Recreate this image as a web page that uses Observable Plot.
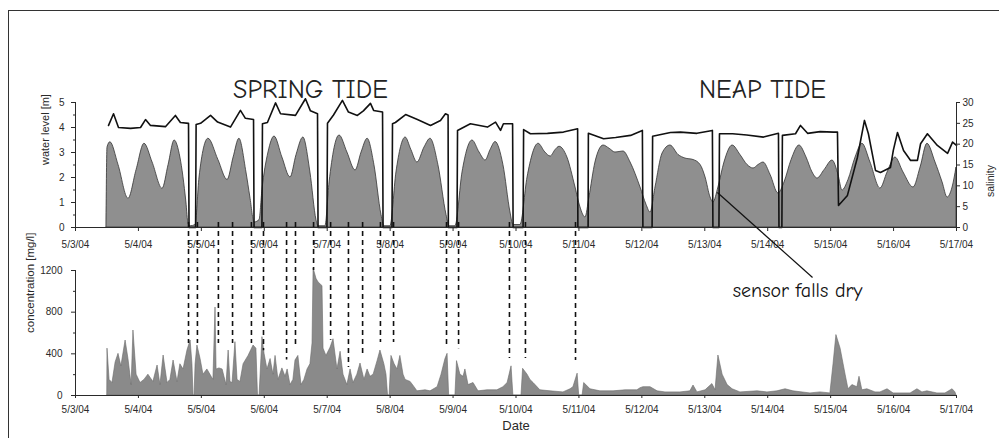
<!DOCTYPE html>
<html><head><meta charset="utf-8">
<script src="https://cdn.jsdelivr.net/npm/d3@7"></script>
<script src="https://cdn.jsdelivr.net/npm/@observablehq/plot@0.6"></script>
<style>
body{margin:0;background:#fff;}
#wrap{position:relative;width:999px;height:438px;overflow:hidden;background:#fff;}
#frame{position:absolute;left:8px;top:10px;width:1100px;height:500px;border:1.5px solid #333;box-sizing:border-box;}
#top,#bot{position:absolute;left:0;}
#top{top:0px}
#bot{top:210px}
svg{overflow:visible}
</style></head><body>
<div id="wrap"><div id="frame"></div><div id="top"></div><div id="bot"></div></div>
<script>
// x tick labels (one per day)
const dayTicks = ["5/3/04","5/4/04","5/5/04","5/6/04","5/7/04","5/8/04","5/9/04","5/10/04","5/11/04","5/12/04","5/13/04","5/14/04","5/15/04","5/16/04","5/17/04"];
// y tick values
const levelTicks = [0,1,2,3,4,5];
const salinityTicks = [0,5,10,15,20,25,30];
const concTicks = [0,400,800,1200];

// [hours since 5/3/04 00:00, water level m]
const waterLevel = [[11.8,0],[12.2,3.2],[13.3,3.41],[16.4,2.5],[20.2,1.15],[23.3,2.3],[26.3,3.35],[29.4,2.6],[33.2,1.55],[35.5,2.5],[37.8,3.48],[40.0,2.8],[42.3,1.0],[43.1,0.15],[43.9,0.05],[45.8,0.1],[47.3,2.0],[50.7,3.55],[54.5,2.7],[58.0,1.9],[60.3,2.8],[62.5,3.55],[65.2,2.2],[66.7,1.2],[68.3,0.2],[70.2,0.3],[71.3,1.5],[73.6,3.0],[75.9,3.64],[78.9,2.8],[82.0,2.0],[84.3,2.9],[86.9,3.6],[89.6,2.2],[91.9,0.3],[92.7,0.05],[95.3,0.05],[96.9,1.8],[100.7,3.68],[103.7,3.0],[106.8,2.28],[109.1,3.0],[111.4,3.55],[114.0,2.5],[116.7,0.5],[117.8,0.05],[120.1,0.05],[122.4,2.2],[125.9,3.6],[128.1,3.1],[130.4,2.6],[133.1,3.2],[135.4,3.55],[138.4,2.5],[141.5,0.5],[142.6,0.05],[144.9,0.05],[147.6,2.2],[151.4,3.48],[154.1,3.0],[156.4,2.68],[158.3,3.1],[160.2,3.42],[163.2,2.5],[165.9,0.6],[167.0,0.1],[169.7,0.1],[172.4,2.0],[176.6,3.35],[179.2,3.0],[181.2,2.84],[183.1,3.1],[184.6,3.23],[187.6,2.8],[190.7,1.6],[192.6,0.8],[194.5,0.4],[196.0,1.2],[198.3,2.6],[201.4,3.28],[203.7,3.15],[205.9,3.0],[207.5,3.02],[209.0,3.04],[211.7,2.6],[215.5,1.6],[217.8,0.9],[219.3,0.6],[221.2,1.6],[223.9,2.96],[226.9,3.28],[230.0,2.9],[232.6,2.76],[235.7,2.7],[238.4,2.5],[240.3,2.0],[242.2,1.2],[243.3,1.0],[245.2,1.6],[247.5,2.6],[250.6,3.28],[253.6,2.9],[256.3,2.5],[258.6,2.36],[260.5,2.5],[262.4,2.6],[265.1,2.1],[268.1,1.36],[270.4,1.8],[273.1,2.7],[276.1,3.28],[278.8,2.8],[281.1,2.2],[283.0,1.96],[285.7,2.3],[288.7,2.68],[291.0,2.1],[292.5,1.48],[294.8,1.9],[297.5,2.8],[300.1,3.35],[303.2,2.6],[307.0,1.56],[309.7,2.2],[312.7,2.8],[315.8,2.2],[319.6,1.6],[322.3,2.4],[324.9,3.35],[328.0,2.6],[330.7,1.8],[332.6,1.2],[334.5,1.6],[336.0,2.4]];

// [hours, salinity]
const salinity = [[12.6,24.5],[14.5,27.3],[16.4,24.0],[21.0,23.8],[24.8,24.0],[26.7,25.9],[28.6,24.5],[34.3,24.2],[38.1,26.9],[40.0,25.2],[43.1,25.0],[43.3,0],[45.8,0],[46.0,24.7],[47.7,25.0],[51.5,26.9],[54.2,25.3],[59.1,24.1],[62.9,28.1],[64.8,26.2],[67.9,25.9],[68.1,0],[71.1,0],[71.3,24.9],[73.2,25.2],[76.3,29.9],[78.2,27.3],[83.9,26.9],[87.7,30.9],[89.6,28.0],[92.3,27.3],[92.5,0],[95.9,0],[96.1,25.0],[98.4,27.0],[101.8,30.5],[104.1,27.7],[107.5,26.9],[109.8,28.0],[112.5,29.8],[113.7,28.1],[117.1,27.7],[117.3,0],[120.7,0],[120.9,24.9],[122.0,25.2],[125.9,27.1],[130.4,25.9],[135.4,24.5],[139.2,25.7],[141.1,27.3],[142.1,27.0],[142.2,0],[145.5,0],[145.7,23.3],[150.6,24.9],[157.1,24.1],[160.2,25.3],[162.1,23.3],[163.2,24.9],[166.7,24.9],[166.9,0],[170.7,0],[170.9,23.5],[173.5,22.5],[180.0,22.6],[186.1,22.9],[191.5,23.7],[191.6,0],[195.5,0],[195.6,22.6],[201.4,21.3],[206.0,21.6],[211.7,22.1],[216.2,23.3],[216.4,0],[219.9,0],[220.1,21.9],[226.9,22.8],[230.7,22.9],[237.0,22.6],[242.9,23.3],[243.1,0],[245.4,0],[245.6,22.5],[250.6,22.5],[256.0,22.2],[262.4,21.7],[268.1,22.6],[268.3,0],[269.4,0],[269.6,22.1],[274.6,22.5],[276.5,24.5],[279.2,22.6],[284.0,23.0],[289.1,22.9],[290.6,22.9],[291.0,5.3],[294.4,7.7],[298.2,16.8],[300.9,25.7],[302.4,22.5],[305.1,13.7],[307.0,13.2],[310.8,14.4],[311.9,18.5],[313.5,22.8],[315.8,18.5],[318.5,16.1],[321.1,16.1],[322.3,20.1],[324.9,22.5],[328.7,19.7],[332.6,17.8],[334.5,20.5],[336.0,19.7]];

// [hours, concentration mg/l]
const concentration = [[12.1,0],[12.2,450],[13.0,150],[14.1,120],[15.3,317],[16.4,400],[17.5,280],[19.1,528],[20.2,350],[21.4,100],[22.1,624],[23.3,200],[24.8,120],[26.3,150],[27.8,200],[29.7,130],[31.3,288],[32.4,100],[33.6,384],[35.1,120],[36.2,150],[37.4,336],[38.9,130],[40.0,300],[41.2,250],[42.7,432],[43.9,528],[44.6,300],[45.0,0],[45.4,0],[45.8,300],[46.5,480],[47.7,350],[48.8,200],[50.3,250],[51.9,180],[52.6,150],[53.4,845],[53.8,250],[54.9,260],[56.1,250],[57.6,100],[58.4,432],[59.1,130],[59.9,120],[61.0,512],[61.8,150],[62.9,130],[64.1,300],[66.0,380],[67.9,480],[69.0,450],[69.6,0],[70.2,0],[70.9,350],[71.3,560],[72.1,400],[73.2,250],[74.4,350],[75.5,200],[76.3,380],[77.4,150],[78.9,260],[80.1,180],[80.9,250],[82.0,100],[83.1,150],[83.9,336],[85.0,380],[86.2,100],[87.3,150],[88.5,250],[89.6,300],[90.4,500],[90.8,1220],[91.9,1120],[92.7,1085],[94.2,1050],[94.6,450],[95.7,380],[97.3,460],[98.4,540],[99.9,250],[101.1,420],[102.2,200],[103.7,100],[104.9,250],[106.0,120],[107.5,200],[108.7,307],[110.2,150],[111.4,250],[112.5,180],[113.7,200],[115.2,330],[116.3,432],[117.8,300],[118.6,200],[119.2,0],[119.8,0],[120.5,380],[121.7,300],[122.8,250],[123.9,380],[125.1,200],[125.9,150],[127.8,130],[129.3,80],[130.4,40],[133.5,50],[135.4,40],[138.1,80],[139.6,200],[141.1,350],[141.9,400],[142.5,0],[144.9,0],[145.5,330],[146.8,200],[148.0,180],[148.7,250],[149.9,100],[151.8,120],[153.7,40],[157.1,50],[160.9,50],[163.2,80],[164.8,120],[166.3,280],[167.0,0],[170.1,0],[170.7,256],[172.4,200],[173.5,150],[174.7,120],[177.3,50],[181.2,40],[186.1,30],[188.8,60],[189.9,80],[191.5,210],[192.1,0],[193.4,0],[194.0,120],[196.4,60],[200.2,40],[205.2,40],[209.8,50],[214.3,50],[215.5,70],[216.6,80],[219.3,80],[222.0,40],[225.0,30],[230.7,30],[234.5,40],[235.7,96],[237.2,30],[240.3,50],[242.9,110],[244.1,50],[245.2,384],[246.8,200],[248.7,100],[250.6,60],[253.6,30],[260.1,40],[263.9,30],[267.7,40],[270.8,60],[273.8,40],[280.3,20],[284.1,30],[287.9,20],[289.1,300],[290.2,580],[291.8,450],[293.7,200],[294.8,60],[296.3,100],[298.2,80],[299.0,180],[300.1,50],[302.0,60],[305.1,30],[307.0,30],[309.7,60],[312.0,20],[318.5,20],[321.1,60],[323.0,30],[324.9,40],[328.7,20],[331.8,20],[334.5,60],[335.6,30],[336.0,0]];

// dashed connectors: [hours, concentration where the dash ends]
const dryMarks = [[43.1,500],[46.5,500],[54.5,500],[59.9,500],[67.1,500],[71.7,430],[80.5,340],[83.9,480],[90.8,1200],[97.3,530],[104.1,270],[109.5,400],[116.3,510],[121.3,510],[141.5,460],[146.1,450],[165.5,355],[171.6,355],[190.7,335]];
const dashTopConc = 1660;

// annotations: [hours, label]
const tideLabels = [[89.6,"SPRING TIDE"],[262,"NEAP TIDE"]];
const sensorNote = {from:[244.8,1.4], to:[281.1,-2.0], label:"sensor falls dry", labelAt:[275.4,1005]};

const parse = d3.utcParse("%m/%d/%y");
const tickDates = dayTicks.map(parse);
const fmt = d3.utcFormat("%-m/%-d/%y");
const t0 = tickDates[0];
const T = h => new Date(+t0 + h*3600e3);
const xDomain = [tickDates[0], tickDates[tickDates.length-1]];

const wl = waterLevel.map(([h,v]) => ({t:T(h), v}));
const sal = salinity.map(([h,v]) => ({t:T(h), v}));
const conc = concentration.map(([h,v]) => ({t:T(h), v}));
const dashes = dryMarks.map(([h,v]) => ({t:T(h), v}));
const tides = tideLabels.map(([h,s]) => ({t:T(h), s}));

const FONT = "Liberation Sans, Arial, sans-serif";
const COMIC = "Comic Sans MS, Comic Neue, Lato, sans-serif";
const ink = "#2a2a2a";

const topPlot = Plot.plot({
  width:999, height:255,
  marginLeft:75, marginRight:43, marginTop:102, marginBottom:28,
  style:{background:"transparent", overflow:"visible", fontFamily:FONT, fontSize:"10px", color:ink},
  x:{type:"utc", domain:xDomain},
  y:{domain:[0,5]},
  marks:[
    Plot.areaY(wl, {x:"t", y:"v", fill:"#8f8f8f", stroke:"#333", strokeWidth:0.8, curve:"monotone-x"}),
    Plot.line(sal, {x:"t", y:d=>d.v/6, stroke:"#111", strokeWidth:1.6}),
    Plot.ruleY([0], {stroke:ink}),
    Plot.ruleX([xDomain[0]], {stroke:ink}),
    Plot.ruleX([xDomain[1]], {stroke:ink}),
    Plot.axisX({ticks:tickDates, tickFormat:fmt, tickSize:4, tickPadding:9, label:null}),
    Plot.axisY({ticks:levelTicks, tickFormat:d=>String(d), tickSize:4, tickPadding:7, label:null}),
    Plot.axisY({ticks:d3.range(0.5,5,1), tickSize:2, tickFormat:()=>"", label:null}),
    Plot.axisY(salinityTicks.map(v=>v/6), {anchor:"right", tickFormat:d=>String(Math.round(d*6)), tickSize:3, tickPadding:3, label:null}),
    Plot.text(["water level [m]"], {text:d=>d, frameAnchor:"left", dx:-30, rotate:-90, fontSize:11, fill:ink}),
    Plot.text(["salinity"], {text:d=>d, frameAnchor:"right", dx:34, rotate:-90, fontSize:10.5, fill:ink}),
    Plot.text(tides, {x:"t", text:"s", frameAnchor:"top", dy:-23, fontSize:26, fontFamily:COMIC, fill:"#222"}),
    Plot.link([sensorNote], {x1:d=>T(d.from[0]), y1:d=>d.from[1], x2:d=>T(d.to[0]), y2:d=>d.to[1], stroke:"#111", strokeWidth:1.2})
  ]
});
document.getElementById("top").append(topPlot);

const botPlot = Plot.plot({
  width:999, height:228,
  marginLeft:75, marginRight:43, marginTop:60, marginBottom:43,
  style:{background:"transparent", overflow:"visible", fontFamily:FONT, fontSize:"10px", color:ink},
  x:{type:"utc", domain:xDomain},
  y:{domain:[0,1200]},
  marks:[
    Plot.areaY(conc, {x:"t", y:"v", fill:"#8a8a8a", stroke:"#6a6a6a", strokeWidth:0.6}),
    Plot.ruleY([0], {stroke:ink}),
    Plot.ruleX([xDomain[0]], {stroke:ink}),
    Plot.ruleX(dashes, {x:"t", y1:dashTopConc, y2:"v", stroke:"#111", strokeWidth:1.6, strokeDasharray:"5,4"}),
    Plot.axisX({ticks:tickDates, tickFormat:fmt, tickSize:3, tickPadding:7, label:null}),
    Plot.axisY({ticks:concTicks, tickFormat:d=>String(d), tickSize:4, tickPadding:9, label:null}),
    Plot.axisY({ticks:[200,600,1000], tickSize:2, tickFormat:()=>"", label:null}),
    Plot.text(["concentration [mg/l]"], {text:d=>d, frameAnchor:"left", dx:-45, rotate:-90, fontSize:11.5, fill:ink}),
    Plot.text(["Date"], {text:d=>d, frameAnchor:"bottom", dy:34, fontSize:13, fill:ink}),
    Plot.text([sensorNote], {x:d=>T(d.labelAt[0]), y:d=>d.labelAt[1], text:"label", fontSize:20, fontFamily:COMIC, fill:"#111"})
  ]
});
document.getElementById("bot").append(botPlot);
</script>
</body></html>
